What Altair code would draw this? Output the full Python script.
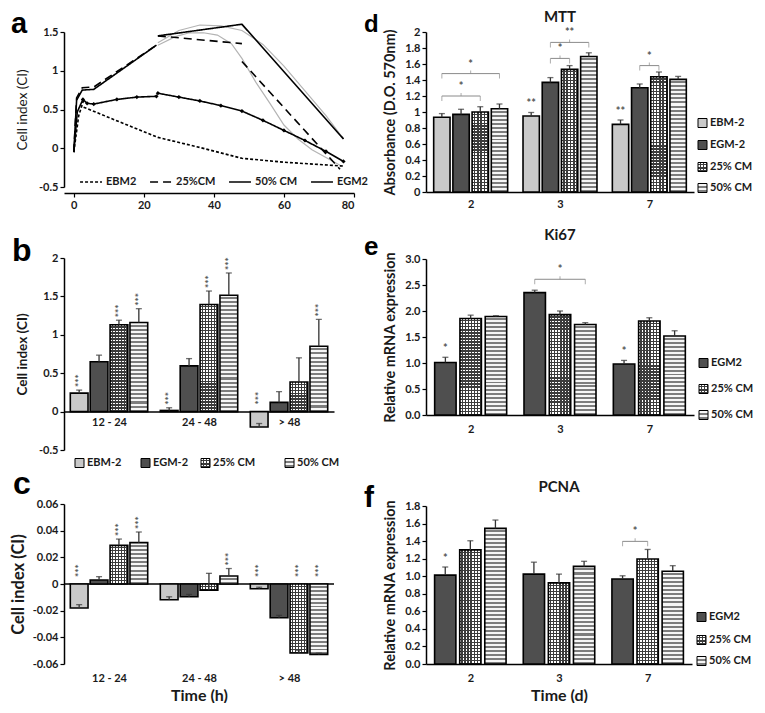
import json
import altair as alt
import pandas as pd

FONT = "Lato"
LETTER_FONT = "Liberation Sans"
INK = "#1a1a1a"

# ================= Panel a : real-time cell index =================
A_NAMES = ["EBM2", "25%CM", "50% CM", "EGM2"]
a_ebm2_seg = [0, 0, 0, 1, 1, 1, 1, 1, 1, 1]
a_ebm2_t = [0, 1.4, 2.8, 2.8, 12, 24, 36, 48, 60, 77]
a_ebm2_ci = [-0.05, 0.42, 0.62, 0.53, 0.36, 0.14, 0.01, -0.13, -0.18, -0.23]

a_cm25_seg = [0, 0, 0, 0, 0, 1, 1, 2, 2]
a_cm25_t = [0, 0.8, 2.4, 5.7, 23.6, 24, 48, 48, 76]
a_cm25_ci = [-0.05, 0.65, 0.78, 0.79, 1.33, 1.45, 1.35, 1.12, -0.27]

a_cm50_seg = [0, 0, 0, 0, 0, 1, 1, 1]
a_cm50_t = [0, 0.8, 2.4, 5.7, 23.6, 24, 48, 77]
a_cm50_ci = [-0.05, 0.62, 0.75, 0.76, 1.33, 1.45, 1.6, 0.12]

a_egm2_seg = [0, 0, 0, 0, 0, 0, 0, 0, 1, 1, 1, 1, 1, 1, 1, 1, 1, 1]
a_egm2_t = [0, 1, 2.6, 3.8, 5.7, 12.3, 18, 23.6, 24, 30, 36, 42, 48, 54, 60, 66, 72, 77]
a_egm2_ci = [-0.05, 0.47, 0.63, 0.58, 0.57, 0.63, 0.66, 0.67, 0.71, 0.66, 0.61, 0.55,
             0.48, 0.36, 0.23, 0.10, -0.04, -0.17]

# raw (grey) recordings
a_raw50_t = [24, 30, 36, 42, 48, 54, 60, 66, 72, 77]
a_raw50_ci = [1.36, 1.52, 1.59, 1.58, 1.52, 1.34, 1.06, 0.74, 0.42, 0.12]
a_raw25_t = [24, 29, 33, 37, 41, 45, 48, 52, 56, 60, 64, 68, 72, 76]
a_raw25_ci = [1.33, 1.44, 1.49, 1.49, 1.46, 1.35, 1.16, 0.85, 0.58, 0.30, 0.12, -0.02, -0.12, -0.22]

# ================= Panel b : slope of CI =================
B_SERIES = ["EBM-2", "EGM-2", "25% CM", "50% CM"]
B_GROUPS = ["12 - 24", "24 - 48", "> 48"]
b_val = {"EBM-2": [0.24, 0.015, -0.20], "EGM-2": [0.65, 0.595, 0.12],
         "25% CM": [1.13, 1.395, 0.385], "50% CM": [1.16, 1.515, 0.85]}
b_err = {"EBM-2": [0.04, 0.035, 0.045], "EGM-2": [0.085, 0.095, 0.14],
         "25% CM": [0.06, 0.175, 0.315], "50% CM": [0.18, 0.29, 0.35]}
b_star = {"EBM-2": ["***", "***", "***"], "EGM-2": ["", "", ""],
          "25% CM": ["***", "***", ""], "50% CM": ["***", "***", "***"]}

# ================= Panel c =================
c_val = {"EBM-2": [-0.018, -0.0118, -0.0036], "EGM-2": [0.003, -0.0096, -0.0253],
         "25% CM": [0.029, -0.0046, -0.0518], "50% CM": [0.031, 0.006, -0.0528]}
c_err = {"EBM-2": [0.0025, 0.0022, 0.0012], "EGM-2": [0.0025, 0.0018, 0.0018],
         "25% CM": [0.0047, 0.0126, 0.002], "50% CM": [0.008, 0.0056, 0.001]}
c_star = {"EBM-2": ["***", "", "***"], "EGM-2": ["", "", ""],
          "25% CM": ["***", "", "***"], "50% CM": ["***", "***", "***"]}

# ================= Panel d : MTT =================
D_GROUPS = ["2", "3", "7"]
d_val = {"EBM-2": [0.934, 0.95, 0.845], "EGM-2": [0.97, 1.37, 1.304],
         "25% CM": [1.0, 1.533, 1.44], "50% CM": [1.04, 1.694, 1.408]}
d_err = {"EBM-2": [0.046, 0.044, 0.055], "EGM-2": [0.064, 0.06, 0.046],
         "25% CM": [0.066, 0.047, 0.06], "50% CM": [0.06, 0.046, 0.037]}
d_star = {"EBM-2": ["", "**", "**"], "EGM-2": ["", "", ""],
          "25% CM": ["", "", ""], "50% CM": ["", "", ""]}
d_brackets = [(0, "EBM-2", "25% CM", 1.20, "*"), (0, "EBM-2", "50% CM", 1.48, "*"),
              (1, "EGM-2", "25% CM", 1.67, "*"), (1, "EGM-2", "50% CM", 1.87, "**"),
              (2, "EGM-2", "25% CM", 1.58, "*")]

# ================= Panel e : Ki67 =================
E_SERIES = ["EGM2", "25% CM", "50% CM"]
e_val = {"EGM2": [1.01, 2.354, 0.98], "25% CM": [1.857, 1.93, 1.807], "50% CM": [1.894, 1.74, 1.52]}
e_err = {"EGM2": [0.10, 0.046, 0.07], "25% CM": [0.063, 0.07, 0.063], "50% CM": [0.016, 0.036, 0.10]}
e_star = {"EGM2": ["*", "", "*"], "25% CM": ["", "", ""], "50% CM": ["", "", ""]}
e_brackets = [(1, "EGM2", "50% CM", 2.61, "*")]

# ================= Panel f : PCNA =================
f_val = {"EGM2": [1.013, 1.024, 0.968], "25% CM": [1.30, 0.924, 1.197], "50% CM": [1.545, 1.112, 1.057]}
f_err = {"EGM2": [0.092, 0.136, 0.037], "25% CM": [0.104, 0.10, 0.108], "50% CM": [0.095, 0.058, 0.063]}
f_star = {"EGM2": ["*", "", ""], "25% CM": ["", "", ""], "50% CM": ["", "", ""]}
f_brackets = [(2, "EGM2", "25% CM", 1.397, "*")]


# ---------------------------------------------------------------
KIND = {"EBM-2": "light", "EGM-2": "dark", "EGM2": "dark", "25% CM": "check", "50% CM": "stripe"}


def stripes(direction, n, c1, c2, frac):
    stops = []
    for k in range(n):
        a = round(k / n, 5)
        b = round((k + frac) / n, 5)
        c = round((k + 1) / n, 5)
        stops += [{"offset": a, "color": c1}, {"offset": b, "color": c1},
                  {"offset": b, "color": c2}, {"offset": c, "color": c2}]
    g = {"gradient": "linear", "stops": stops, "x1": 0, "y1": 0}
    if direction == "x":
        g.update(x2=1, y2=0)
    else:
        g.update(x2=0, y2=1)
    return g


def fill_layers(kind, wpx, hpx):
    if kind == "light":
        return [{"fill": "#c9c9c9"}]
    if kind == "dark":
        return [{"fill": "#4f4f4f"}]
    if kind == "check":
        nw = max(1, int(round(wpx / 3.0)))
        nh = max(1, int(round(hpx / 3.0)))
        return [{"fill": stripes("x", nw, "#ffffff", "#3c3c3c", 0.55)},
                {"fill": stripes("y", nh, "rgba(255,255,255,0)", "#3c3c3c", 0.55)}]
    nh = max(1, int(round(hpx / 4.0)))
    return [{"fill": stripes("y", nh, "#f6f6f6", "#7d7d7d", 0.5)}]


def fmt_expr(f):
    return "replace(format(datum.value, '%s'), '\u2212', '-')" % f


def text_layer(txt, lx, ly, size, font=FONT, align="left", baseline="alphabetic", color="black"):
    return alt.Chart(pd.DataFrame({"txt": [txt]})).mark_text(
        font=font, fontWeight="bold", fontSize=size, align=align,
        baseline=baseline, color=color).encode(
        text="txt:N", x=alt.value(lx), y=alt.value(ly))


def spacer_layer(py):
    # invisible 1px block that only reserves layout room below a panel
    return alt.Chart(pd.DataFrame({"k": [0]})).mark_rect(fill="white", strokeWidth=0).encode(
        x=alt.value(0), x2=alt.value(1), y=alt.value(py - 1), y2=alt.value(py))


def legend_item(label, kind, sx, sy, size=9):
    out = []
    fl = fill_layers(kind, size, size)
    for k, fkw in enumerate(fl):
        mk = dict(fkw)
        if k == len(fl) - 1:
            mk.update(stroke="black", strokeWidth=1)
        out.append(alt.Chart(pd.DataFrame({"label": [label]})).mark_rect(**mk).encode(
            x=alt.value(sx), x2=alt.value(sx + size),
            y=alt.value(sy - size / 2), y2=alt.value(sy + size / 2)))
    out.append(alt.Chart(pd.DataFrame({"label": [label]})).mark_text(
        font=FONT, fontWeight="bold", fontSize=11, align="left", baseline="middle",
        color=INK).encode(text="label:N", x=alt.value(sx + size + 3), y=alt.value(sy)))
    return out


def bar_panel(p):
    series = p["series"]
    n = len(series)
    W, H = p["width"], p["height"]
    y0, y1 = p["ydomain"]
    xs = alt.Scale(domain=[-0.5, 2.5], nice=False, zero=False)
    ys = alt.Scale(domain=[y0, y1], nice=False, zero=False)
    ppx = W / 3.0
    ppy = H / (y1 - y0)
    rows = []
    for si, s in enumerate(series):
        for gi in range(3):
            xc = gi + (si - (n - 1) / 2.0) * p["step"]
            v = p["values"][s][gi]
            top = v + p["err"][s][gi]
            rows.append({"series": s, "group": gi, "xc": xc,
                         "xl": xc - p["barw"] / 2, "xr": xc + p["barw"] / 2,
                         "value": v, "top": top, "star": p["stars"][s][gi],
                         "starpos": max(top, 0.0), "above": bool(top > 0)})
    df = pd.DataFrame(rows)

    yaxis = alt.Axis(values=p["yticks"], labelExpr=fmt_expr(p["yfmt"]), title=p["ytitle"],
                     titleFontSize=p["ytsize"], titleFontWeight=p["ytweight"],
                     titlePadding=p["ytpad"], tickSize=4, labelPadding=2)
    xkw = dict(values=[0, 1, 2], labelExpr=json.dumps(p["groups"]) + "[datum.value]",
               tickSize=0, labelPadding=p["xlpad"], labelFontSize=11)
    if p.get("xtitle"):
        xkw.update(title=p["xtitle"], titleFontSize=16, titleFontWeight="bold", titlePadding=p.get("xtpad", 3))
    else:
        xkw.update(title="")
    if p["xmode"] == "zero":
        xkw.update(offset=-(0 - y0) / (y1 - y0) * H)
    elif p["xmode"] == "rule":
        xkw.update(domain=False)
    xaxis = alt.Axis(**xkw)

    def X(field):
        return alt.X(field, scale=xs, axis=xaxis)

    def Y(field):
        return alt.Y(field, scale=ys, axis=yaxis)

    layers = []
    if p["xmode"] == "rule":
        layers.append(alt.Chart(pd.DataFrame({"x1": [-0.5], "x2": [2.5], "z": [0.0]})).mark_rule(
            color="black", strokeWidth=1.5).encode(x=X("x1:Q"), x2="x2:Q", y=Y("z:Q")))
    for r in rows:
        fl = fill_layers(KIND[r["series"]], p["barw"] * ppx, abs(r["value"]) * ppy)
        for k, fkw in enumerate(fl):
            mk = dict(fkw)
            if k == len(fl) - 1:
                mk.update(stroke="black", strokeWidth=1.6)
            else:
                mk.update(strokeWidth=0)
            layers.append(alt.Chart(pd.DataFrame([r])).mark_bar(**mk).encode(
                x=X("xl:Q"), x2="xr:Q", y=Y("value:Q"), y2=alt.datum(0)))
    base = alt.Chart(df)
    layers.append(base.mark_rule(color="#333333", strokeWidth=1.3).encode(
        x=X("xc:Q"), y=Y("value:Q"), y2="top:Q"))
    layers.append(base.mark_tick(orient="horizontal", size=6, thickness=1.3, color="#333333").encode(
        x=X("xc:Q"), y=Y("top:Q")))
    if p["rotstars"]:
        layers.append(base.transform_filter("datum.star != '' && datum.above").mark_text(
            angle=270, align="left", baseline="middle", dx=3, fontSize=10, fontWeight="bold",
            color="#555555", font=FONT).encode(x=X("xc:Q"), y=Y("starpos:Q"), text="star:N"))
        layers.append(base.transform_filter("datum.star != '' && !datum.above").mark_text(
            angle=270, align="left", baseline="middle", dx=7, fontSize=10, fontWeight="bold",
            color="#555555", font=FONT).encode(x=X("xc:Q"), y=Y("starpos:Q"), text="star:N"))
    else:
        layers.append(base.transform_filter("datum.star != ''").mark_text(
            align="center", baseline="middle", dy=-8, fontSize=11, fontWeight="bold",
            color="#555555", font=FONT).encode(x=X("xc:Q"), y=Y("top:Q"), text="star:N"))

    if p.get("brackets"):
        xpos = {(r["group"], r["series"]): r["xc"] for r in rows}
        br = pd.DataFrame([{"x1": xpos[(g, s1)], "x2": xpos[(g, s2)], "xm": (xpos[(g, s1)] + xpos[(g, s2)]) / 2,
                            "h": h, "lab": lab} for g, s1, s2, h, lab in p["brackets"]])
        bb = alt.Chart(br)
        layers.append(bb.mark_rule(color="#8a8a8a", strokeWidth=1).encode(
            x=X("x1:Q"), x2="x2:Q", y=Y("h:Q")))
        for col in ["x1", "x2"]:
            layers.append(bb.mark_tick(orient="vertical", size=5, thickness=1, color="#8a8a8a", yOffset=2.5).encode(
                x=X(col + ":Q"), y=Y("h:Q")))
        layers.append(bb.mark_tick(orient="vertical", size=3, thickness=1, color="#8a8a8a", yOffset=-1.5).encode(
            x=X("xm:Q"), y=Y("h:Q")))
        layers.append(bb.mark_text(align="center", baseline="middle", dy=-9, fontSize=11, fontWeight="bold",
                                   color="#555555", font=FONT).encode(x=X("xm:Q"), y=Y("h:Q"), text="lab:N"))

    for s, (sx, sy) in zip(series, p["legend_pos"]):
        layers += legend_item(s, KIND[s], sx, sy)
    lt, lx, ly, ls = p["letter"]
    layers.append(text_layer(lt, lx, ly, ls, font=LETTER_FONT))
    if p.get("title"):
        layers.append(text_layer(p["title"], W / 2, p["ty"], 15, align="center", baseline="middle", color=INK))
    if p.get("spacer"):
        layers.append(spacer_layer(H + p["spacer"]))
    return alt.layer(*layers).properties(width=W, height=H)


def panel_a(W, H):
    rows = []
    for name, seg, t, ci in [("EBM2", a_ebm2_seg, a_ebm2_t, a_ebm2_ci),
                             ("25%CM", a_cm25_seg, a_cm25_t, a_cm25_ci),
                             ("50% CM", a_cm50_seg, a_cm50_t, a_cm50_ci),
                             ("EGM2", a_egm2_seg, a_egm2_t, a_egm2_ci)]:
        for s_, t_, c_ in zip(seg, t, ci):
            rows.append({"name": name, "key": "%s-%d" % (name, s_), "t": t_, "ci": c_})
    black = pd.DataFrame(rows)
    raw = pd.DataFrame([{"name": "50% CM", "t": t, "ci": c} for t, c in zip(a_raw50_t, a_raw50_ci)] +
                       [{"name": "25%CM", "t": t, "ci": c} for t, c in zip(a_raw25_t, a_raw25_ci)])
    xs = alt.Scale(domain=[-2.8, 80], nice=False, zero=False)
    ys = alt.Scale(domain=[-0.5, 1.5], nice=False, zero=False)
    xaxis = alt.Axis(values=[0, 20, 40, 60, 80], title="", offset=6, tickSize=4, labelPadding=2)
    yaxis = alt.Axis(values=[-0.5, 0, 0.5, 1, 1.5], labelExpr=fmt_expr("~g"), title="Cell index (CI)",
                     titleFontSize=13.5, titleFontWeight="normal", titlePadding=9, tickSize=4, labelPadding=2)
    X = alt.X("t:Q", scale=xs, axis=xaxis)
    Y = alt.Y("ci:Q", scale=ys, axis=yaxis)
    gray = alt.Chart(raw).mark_line(color="#b4b4b4", strokeWidth=1.2).encode(x=X, y=Y, detail="name:N")
    lines = alt.Chart(black).mark_line(color="black", strokeWidth=1.6).encode(
        x=X, y=Y, detail="key:N",
        strokeDash=alt.StrokeDash("name:N", scale=alt.Scale(domain=A_NAMES, range=[[3, 2], [8, 5], [1, 0], [1, 0]]),
                                  legend=alt.Legend(orient="none", legendX=15, legendY=H - 17, direction="horizontal",
                                                    title=None, symbolType="stroke", symbolStrokeColor="black",
                                                    symbolStrokeWidth=1.6, symbolSize=480, labelFont=FONT,
                                                    labelFontSize=11, labelFontWeight="bold", labelColor=INK,
                                                    columnPadding=9, labelOffset=3, columns=4)))
    pts = alt.Chart(black).transform_filter("datum.name == 'EGM2' && datum.t >= 2.6").mark_point(
        shape="diamond", filled=True, size=18, color="black", opacity=1).encode(x=X, y=Y)
    return alt.layer(gray, lines, pts, text_layer("a", -53, 1, 29, font=LETTER_FONT),
                     spacer_layer(H + 48)).properties(width=W, height=H)


# ---------------- panels ----------------
BW, BH = 270, 192
b = bar_panel(dict(series=B_SERIES, groups=B_GROUPS, values=b_val, err=b_err, stars=b_star,
                   width=BW, height=BH, ydomain=[-0.5, 2], yticks=[-0.5, 0, 0.5, 1, 1.5, 2], yfmt="~g",
                   ytitle="Cell index (CI)", ytsize=13.5, ytweight="bold", ytpad=9,
                   step=0.221, barw=0.197, xmode="zero", xlpad=5, rotstars=True,
                   legend_pos=[(11, BH + 13), (77, BH + 13), (137, BH + 13), (221, BH + 13)],
                   letter=("b", -52, 3, 32)))
CW, CH = 270, 160
c = bar_panel(dict(series=B_SERIES, groups=B_GROUPS, values=c_val, err=c_err, stars=c_star,
                   width=CW, height=CH, ydomain=[-0.06, 0.06],
                   yticks=[-0.06, -0.04, -0.02, 0, 0.02, 0.04, 0.06], yfmt="~g",
                   ytitle="Cell index (CI)", ytsize=16.5, ytweight="bold", ytpad=6,
                   step=0.221, barw=0.197, xmode="rule", xlpad=8, xtitle="Time (h)", xtpad=4,
                   rotstars=True, legend_pos=[], letter=("c", -51, -10, 32)))
DW, DH = 268, 160
d = bar_panel(dict(series=B_SERIES, groups=D_GROUPS, values=d_val, err=d_err, stars=d_star,
                   width=DW, height=DH, ydomain=[0, 2], yticks=[0, 0.2, 0.4, 0.6, 0.8, 1, 1.2, 1.4, 1.6, 1.8, 2],
                   yfmt="~g", ytitle="Absorbance (D.O. 570nm)", ytsize=14.5, ytweight="bold", ytpad=7,
                   step=0.215, barw=0.183, xmode="bottom", xlpad=6, rotstars=False, brackets=d_brackets,
                   legend_pos=[(DW + 4, 91), (DW + 4, 113), (DW + 4, 135), (DW + 4, 156)],
                   letter=("d", -62, 0, 24), title="MTT", ty=-15))
EW, EH = 268, 156
e = bar_panel(dict(series=E_SERIES, groups=D_GROUPS, values=e_val, err=e_err, stars=e_star,
                   width=EW, height=EH, ydomain=[0, 3], yticks=[0, 0.5, 1, 1.5, 2, 2.5, 3],
                   yfmt=".1f", ytitle="Relative mRNA expression", ytsize=14.5, ytweight="bold", ytpad=7,
                   step=0.283, barw=0.24, xmode="bottom", xlpad=8, rotstars=False, brackets=e_brackets,
                   legend_pos=[(EW + 5, 104), (EW + 5, 130), (EW + 5, 156)],
                   letter=("e", -62, -4, 26), title="Ki67", ty=-24, spacer=46))
FW, FH = 266, 158
f = bar_panel(dict(series=E_SERIES, groups=D_GROUPS, values=f_val, err=f_err, stars=f_star,
                   width=FW, height=FH, ydomain=[0, 1.8], yticks=[0, 0.2, 0.4, 0.6, 0.8, 1, 1.2, 1.4, 1.6, 1.8],
                   yfmt=".1f", ytitle="Relative mRNA expression", ytsize=14.5, ytweight="bold", ytpad=7,
                   step=0.283, barw=0.24, xmode="bottom", xlpad=8, xtitle="Time (d)", xtpad=4,
                   rotstars=False, brackets=f_brackets,
                   legend_pos=[(FW + 5, 111), (FW + 5, 134), (FW + 5, 155)],
                   letter=("f", -62, 1, 30), title="PCNA", ty=-19))
a = panel_a(290, 155)

left = alt.vconcat(a, b, c, spacing=0)
right = alt.vconcat(d, e, f, spacing=19)
chart = alt.hconcat(left, right, spacing=9).properties(
    padding={"left": 2, "top": 2, "right": 0, "bottom": 0}).configure_axis(
    labelFont=FONT, labelFontWeight="bold", labelFontSize=11, labelColor=INK,
    titleFont=FONT, titleColor=INK, domainColor="black", domainWidth=1.5,
    tickColor="black", tickWidth=1.2, grid=False).configure_view(strokeWidth=0)

chart.save("out.html", embed_options={"renderer": "svg", "actions": False})
